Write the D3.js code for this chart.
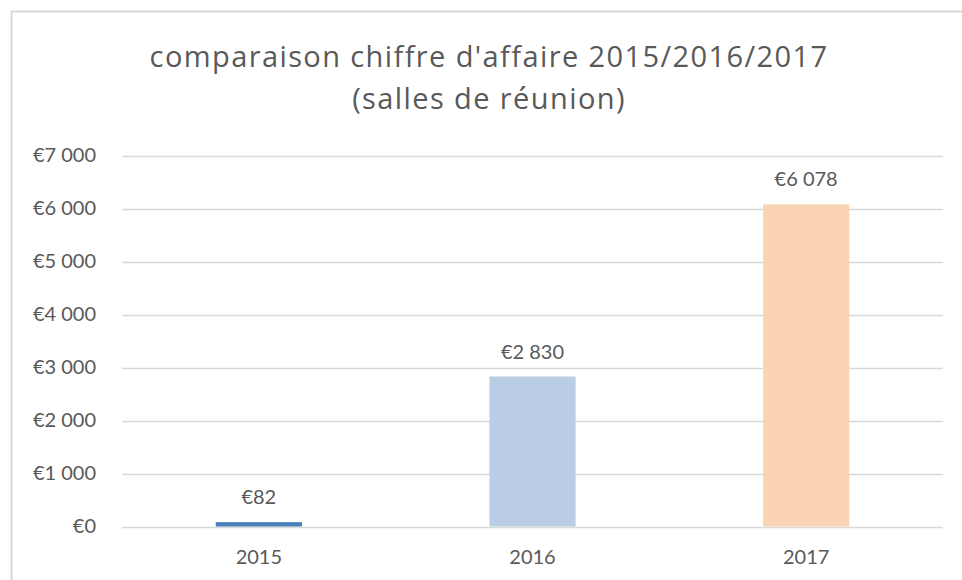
<!DOCTYPE html>
<html>
<head>
<meta charset="utf-8">
<script src="https://cdn.jsdelivr.net/npm/d3@7"></script>
<style>
  html, body { margin: 0; padding: 0; background: #fff; }
  svg { display: block; font-family: Lato, "Open Sans", sans-serif; }
</style>
</head>
<body>
<svg id="chart" width="962" height="580"></svg>
<script>
// Chart data
const years = ["2015", "2016", "2017"];
const revenue = [82, 2830, 6078];
const barColors = ["#4a7ebb", "#b9cde5", "#fbd4b4"];
const yTicks = [0, 1000, 2000, 3000, 4000, 5000, 6000, 7000];
const titleLines = ["comparaison chiffre d'affaire 2015/2016/2017", "(salles de réunion)"];

const svg = d3.select("#chart");
const W = 962, H = 580;
const plot = { left: 122, right: 943, top: 155.5, bottom: 526.5 };
const textColor = "#595959";
const labelSize = 20;

// Outer chart frame (left and top edges visible)
svg.append("path")
  .attr("d", `M11.5,${H} V11.5 H${W}`)
  .attr("fill", "none")
  .attr("stroke", "#d9d9d9")
  .attr("stroke-width", 2);

// Title
svg.append("g").selectAll("text")
  .data(titleLines)
  .join("text")
  .attr("x", 489)
  .attr("y", (d, i) => 67 + i * 42)
  .attr("text-anchor", "middle")
  .attr("fill", textColor)
  .attr("font-family", "'Open Sans', sans-serif")
  .attr("font-size", 29)
  .attr("font-weight", 400)
  .attr("letter-spacing", 1.4)
  .text(d => d);

const x = d3.scaleBand()
  .domain(years)
  .range([plot.left, plot.right])
  .paddingInner(0.685)
  .paddingOuter(0.3425);

const y = d3.scaleLinear()
  .domain([0, 7000])
  .range([plot.bottom, plot.top]);

const euro = v => "€" + d3.format(",")(v).replace(/,/g, "\u00A0");

// Horizontal gridlines
svg.append("g").selectAll("line")
  .data(yTicks)
  .join("line")
  .attr("x1", plot.left)
  .attr("x2", plot.right)
  .attr("y1", d => Math.round(y(d)) + 0.5)
  .attr("y2", d => Math.round(y(d)) + 0.5)
  .attr("stroke", "#d9d9d9")
  .attr("stroke-width", 1.3);

// Y axis labels
const yAxis = svg.append("g")
  .attr("transform", `translate(${plot.left},0)`)
  .call(d3.axisLeft(y).tickValues(yTicks).tickFormat(euro).tickSize(0).tickPadding(26));
yAxis.select(".domain").remove();
yAxis.selectAll("text")
  .attr("fill", textColor)
  .attr("font-size", labelSize)
  .attr("font-family", "Lato, sans-serif");

// X axis labels
const xAxis = svg.append("g")
  .attr("transform", `translate(0,${plot.bottom})`)
  .call(d3.axisBottom(x).tickSize(0).tickPadding(23));
xAxis.select(".domain").remove();
xAxis.selectAll("text")
  .attr("fill", textColor)
  .attr("font-size", labelSize)
  .attr("font-family", "Lato, sans-serif");

// Bars
svg.append("g").selectAll("rect")
  .data(years)
  .join("rect")
  .attr("x", d => x(d))
  .attr("width", x.bandwidth())
  .attr("y", (d, i) => y(revenue[i]))
  .attr("height", (d, i) => y(0) - y(revenue[i]))
  .attr("fill", (d, i) => barColors[i]);

// Value labels
svg.append("g").selectAll("text")
  .data(years)
  .join("text")
  .attr("x", d => x(d) + x.bandwidth() / 2)
  .attr("y", (d, i) => y(revenue[i]) - 18)
  .attr("text-anchor", "middle")
  .attr("fill", textColor)
  .attr("font-size", labelSize)
  .text((d, i) => euro(revenue[i]));
</script>
</body>
</html>
